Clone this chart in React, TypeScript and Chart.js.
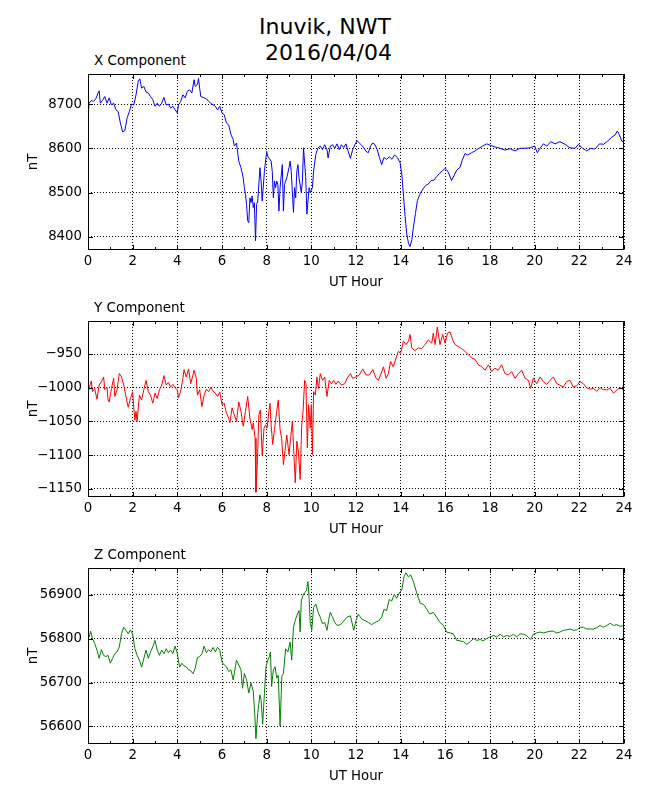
import React, { useEffect, useRef } from "react";
import { Chart, registerables } from "chart.js";

Chart.register(...registerables);

const FIG_TITLE = ["Inuvik, NWT", " 2016/04/04"];
const X_LABEL = "UT Hour";
const Y_LABEL = "nT";
const HOUR_RANGE = [0, 24];
const HOUR_STEP = 2;

const X_TITLE = "X Component";
const X_LIMITS = [8370, 8768];
const X_TICKS = [8400, 8500, 8600, 8700];
// [UT hour, nT]
const X_SERIES: number[][] = [
  [0.0, 8672], [0.05, 8702], [0.15, 8708], [0.25, 8706], [0.35, 8712], [0.45, 8725], [0.5, 8730], [0.55, 8702],
  [0.65, 8708], [0.75, 8717], [0.85, 8702], [0.95, 8714], [1.05, 8698], [1.15, 8702], [1.25, 8687], [1.35, 8683],
  [1.45, 8657], [1.55, 8637], [1.65, 8640], [1.75, 8668], [1.85, 8683], [1.95, 8700], [2.05, 8698], [2.15, 8721],
  [2.25, 8752], [2.32, 8757], [2.4, 8736], [2.5, 8740], [2.6, 8727], [2.7, 8725], [2.8, 8717], [2.9, 8710],
  [3.0, 8695], [3.1, 8702], [3.2, 8695], [3.3, 8702], [3.4, 8715], [3.5, 8698], [3.6, 8700], [3.7, 8691],
  [3.8, 8695], [3.9, 8687], [4.0, 8680], [4.05, 8698], [4.15, 8706], [4.25, 8721], [4.35, 8714], [4.45, 8729],
  [4.55, 8732], [4.65, 8725], [4.75, 8755], [4.8, 8740], [4.9, 8744], [4.95, 8758], [5.0, 8736], [5.05, 8717],
  [5.15, 8715], [5.3, 8712], [5.4, 8706], [5.5, 8702], [5.6, 8698], [5.7, 8695], [5.8, 8687], [5.9, 8695],
  [6.0, 8680], [6.1, 8676], [6.2, 8657], [6.3, 8653], [6.4, 8631], [6.5, 8620], [6.55, 8605], [6.65, 8612],
  [6.75, 8571], [6.85, 8556], [6.95, 8533], [7.0, 8511], [7.05, 8496], [7.1, 8473], [7.15, 8436], [7.2, 8432],
  [7.25, 8488], [7.3, 8477], [7.35, 8492], [7.4, 8466], [7.45, 8477], [7.5, 8391], [7.55, 8473], [7.6, 8481],
  [7.7, 8556], [7.75, 8526], [7.8, 8481], [7.9, 8548], [8.0, 8593], [8.05, 8582], [8.1, 8578], [8.2, 8571],
  [8.25, 8548], [8.3, 8488], [8.35, 8526], [8.4, 8511], [8.45, 8526], [8.5, 8518], [8.55, 8458], [8.6, 8511],
  [8.7, 8563], [8.75, 8458], [8.8, 8518], [8.9, 8533], [9.0, 8556], [9.05, 8571], [9.1, 8548], [9.2, 8455],
  [9.25, 8511], [9.3, 8488], [9.35, 8548], [9.4, 8563], [9.45, 8533], [9.55, 8500], [9.6, 8526], [9.65, 8601],
  [9.75, 8533], [9.8, 8451], [9.9, 8511], [9.95, 8500], [10.05, 8511], [10.1, 8548], [10.2, 8586], [10.3, 8601],
  [10.4, 8605], [10.5, 8597], [10.6, 8608], [10.7, 8597], [10.75, 8578], [10.85, 8605], [10.95, 8608], [11.05, 8600],
  [11.15, 8610], [11.25, 8597], [11.35, 8608], [11.45, 8602], [11.55, 8610], [11.65, 8593], [11.75, 8577], [11.85, 8597],
  [11.95, 8608], [12.05, 8617], [12.15, 8612], [12.25, 8607], [12.35, 8601], [12.45, 8593], [12.55, 8590], [12.65, 8605],
  [12.75, 8612], [12.85, 8608], [12.95, 8597], [13.05, 8579], [13.15, 8563], [13.25, 8579], [13.37, 8575], [13.5, 8581],
  [13.6, 8575], [13.73, 8585], [13.85, 8579], [13.97, 8568], [14.05, 8542], [14.12, 8497], [14.2, 8445], [14.27, 8407],
  [14.35, 8385], [14.42, 8378], [14.5, 8393], [14.57, 8422], [14.66, 8452], [14.75, 8482], [14.87, 8497], [15.0, 8508],
  [15.12, 8516], [15.24, 8519], [15.36, 8527], [15.49, 8528], [15.61, 8536], [15.73, 8542], [15.86, 8549], [16.0, 8555],
  [16.13, 8546], [16.28, 8527], [16.39, 8538], [16.51, 8551], [16.66, 8557], [16.75, 8572], [16.88, 8588], [17.0, 8585],
  [17.18, 8590], [17.33, 8594], [17.5, 8600], [17.67, 8605], [17.85, 8610], [18.0, 8607], [18.22, 8603], [18.45, 8600],
  [18.67, 8596], [18.9, 8599], [19.12, 8594], [19.34, 8600], [19.57, 8600], [19.79, 8601], [20.0, 8605], [20.12, 8590],
  [20.24, 8600], [20.39, 8610], [20.54, 8605], [20.72, 8615], [20.91, 8610], [21.13, 8615], [21.36, 8609], [21.58, 8601],
  [21.81, 8600], [21.96, 8609], [22.15, 8600], [22.33, 8594], [22.52, 8600], [22.7, 8598], [22.9, 8610], [23.08, 8609],
  [23.26, 8616], [23.45, 8625], [23.6, 8630], [23.7, 8639], [23.79, 8631], [23.9, 8616], [24.0, 8615],
];

const Y_TITLE = "Y Component";
const Y_LIMITS = [-1162, -901];
const Y_TICKS = [-1150, -1100, -1050, -1000, -950];
const Y_SERIES: number[][] = [
  [0.0, -1006], [0.05, -1001], [0.15, -990], [0.2, -1006], [0.3, -1001], [0.4, -1017], [0.5, -996], [0.6, -991],
  [0.7, -984], [0.75, -1003], [0.85, -999], [0.9, -1018], [0.95, -1021], [1.05, -1001], [1.15, -986], [1.2, -1013],
  [1.3, -1003], [1.4, -979], [1.5, -984], [1.6, -996], [1.7, -1013], [1.8, -1029], [1.9, -1016], [2.0, -1006],
  [2.05, -1030], [2.1, -1048], [2.15, -1035], [2.2, -1050], [2.3, -1011], [2.4, -1018], [2.5, -1003], [2.6, -989],
  [2.7, -1006], [2.8, -1011], [2.9, -1023], [3.0, -1008], [3.1, -1016], [3.2, -1003], [3.3, -996], [3.4, -982],
  [3.5, -996], [3.6, -992], [3.7, -999], [3.8, -995], [3.9, -1000], [4.0, -1003], [4.05, -1015], [4.15, -1005],
  [4.25, -986], [4.3, -973], [4.4, -984], [4.5, -972], [4.6, -994], [4.7, -981], [4.75, -974], [4.85, -986],
  [4.9, -1011], [5.0, -1003], [5.1, -1028], [5.2, -1011], [5.3, -1002], [5.4, -1006], [5.5, -999], [5.6, -1005],
  [5.7, -1008], [5.8, -1013], [5.9, -1006], [6.0, -1025], [6.1, -1023], [6.2, -1038], [6.3, -1045], [6.35, -1052],
  [6.45, -1030], [6.55, -1040], [6.65, -1050], [6.75, -1021], [6.85, -1035], [6.95, -1057], [7.05, -1035], [7.15, -1013],
  [7.25, -1045], [7.35, -1062], [7.4, -1052], [7.48, -1075], [7.52, -1155], [7.58, -1114], [7.65, -1040], [7.72, -1033],
  [7.8, -1100], [7.88, -1060], [7.95, -1055], [8.02, -1060], [8.1, -1035], [8.15, -1023], [8.2, -1055], [8.27, -1084],
  [8.35, -1062], [8.45, -1035], [8.52, -1018], [8.6, -1062], [8.67, -1075], [8.75, -1114], [8.82, -1094], [8.9, -1070],
  [9.0, -1099], [9.07, -1075], [9.15, -1050], [9.22, -1099], [9.28, -1141], [9.35, -1079], [9.42, -1094], [9.5, -1136],
  [9.57, -1055], [9.63, -1035], [9.7, -989], [9.76, -994], [9.82, -1089], [9.88, -1025], [9.95, -1060], [10.0, -1025],
  [10.05, -1099], [10.1, -1006], [10.18, -1011], [10.25, -984], [10.32, -1001], [10.4, -979], [10.5, -989], [10.6, -984],
  [10.7, -1013], [10.8, -989], [10.9, -994], [11.0, -989], [11.1, -995], [11.2, -990], [11.35, -996], [11.5, -994],
  [11.6, -986], [11.75, -979], [11.85, -986], [12.0, -984], [12.15, -981], [12.3, -972], [12.45, -981], [12.6, -981],
  [12.75, -973], [12.9, -986], [13.0, -989], [13.1, -981], [13.23, -969], [13.35, -986], [13.45, -979], [13.55, -961],
  [13.67, -969], [13.79, -956], [13.9, -946], [14.0, -949], [14.12, -931], [14.24, -936], [14.35, -931], [14.42, -921],
  [14.5, -941], [14.64, -945], [14.79, -941], [14.94, -942], [15.09, -936], [15.24, -929], [15.39, -934], [15.46, -919],
  [15.54, -936], [15.64, -910], [15.76, -936], [15.88, -921], [15.99, -934], [16.1, -919], [16.21, -917], [16.33, -929],
  [16.43, -936], [16.58, -939], [16.73, -942], [16.88, -946], [17.03, -951], [17.18, -956], [17.33, -958], [17.48, -966],
  [17.63, -969], [17.78, -974], [17.93, -966], [18.08, -976], [18.22, -971], [18.37, -974], [18.52, -966], [18.67, -979],
  [18.82, -981], [18.97, -976], [19.12, -986], [19.27, -979], [19.42, -974], [19.57, -986], [19.72, -989], [19.82, -1001],
  [19.94, -986], [20.09, -994], [20.24, -984], [20.39, -991], [20.54, -995], [20.69, -989], [20.84, -984], [20.99, -994],
  [21.13, -996], [21.28, -999], [21.43, -991], [21.58, -989], [21.73, -999], [21.88, -997], [22.03, -991], [22.18, -994],
  [22.33, -1000], [22.48, -1002], [22.63, -1001], [22.78, -1005], [22.93, -1000], [23.08, -1003], [23.23, -1003], [23.38, -1001],
  [23.53, -1008], [23.68, -1003], [23.83, -1000], [23.98, -1003],
];

const Z_TITLE = "Z Component";
const Z_LIMITS = [56560, 56961];
const Z_TICKS = [56600, 56700, 56800, 56900];
const Z_SERIES: number[][] = [
  [0.0, 56819], [0.05, 56804], [0.12, 56817], [0.2, 56800], [0.3, 56789], [0.4, 56774], [0.5, 56755], [0.6, 56775],
  [0.7, 56762], [0.8, 56759], [0.9, 56762], [1.0, 56744], [1.1, 56755], [1.2, 56766], [1.3, 56770], [1.4, 56781],
  [1.5, 56811], [1.6, 56826], [1.7, 56819], [1.8, 56811], [1.9, 56820], [2.0, 56810], [2.1, 56777], [2.2, 56762],
  [2.3, 56751], [2.4, 56735], [2.5, 56755], [2.6, 56774], [2.7, 56755], [2.8, 56770], [2.9, 56781], [3.0, 56796],
  [3.1, 56774], [3.2, 56762], [3.3, 56774], [3.4, 56766], [3.5, 56777], [3.6, 56768], [3.7, 56774], [3.8, 56766],
  [3.9, 56783], [4.0, 56766], [4.1, 56735], [4.2, 56744], [4.3, 56738], [4.4, 56736], [4.5, 56729], [4.6, 56727],
  [4.7, 56720], [4.8, 56732], [4.9, 56757], [5.0, 56759], [5.1, 56765], [5.2, 56783], [5.3, 56768], [5.4, 56775],
  [5.5, 56770], [5.6, 56780], [5.7, 56770], [5.8, 56780], [5.9, 56774], [6.0, 56747], [6.1, 56740], [6.2, 56736],
  [6.3, 56725], [6.4, 56729], [6.5, 56706], [6.6, 56736], [6.65, 56751], [6.75, 56740], [6.85, 56729], [6.92, 56687],
  [7.0, 56721], [7.1, 56706], [7.2, 56676], [7.3, 56699], [7.4, 56680], [7.47, 56624], [7.52, 56572], [7.6, 56631],
  [7.7, 56672], [7.75, 56661], [7.82, 56605], [7.9, 56676], [7.97, 56736], [8.05, 56751], [8.12, 56759], [8.17, 56770],
  [8.22, 56691], [8.3, 56729], [8.38, 56736], [8.45, 56710], [8.52, 56717], [8.6, 56601], [8.68, 56714], [8.75, 56721],
  [8.85, 56777], [8.95, 56770], [9.05, 56792], [9.12, 56751], [9.2, 56826], [9.3, 56845], [9.38, 56856], [9.45, 56864],
  [9.5, 56815], [9.55, 56886], [9.62, 56898], [9.7, 56905], [9.78, 56909], [9.85, 56930], [9.9, 56894], [9.95, 56837],
  [10.02, 56819], [10.1, 56871], [10.2, 56879], [10.3, 56860], [10.4, 56849], [10.5, 56834], [10.6, 56837], [10.7, 56819],
  [10.8, 56849], [10.85, 56860], [10.95, 56849], [11.05, 56837], [11.15, 56830], [11.3, 56832], [11.45, 56840], [11.6, 56849],
  [11.75, 56852], [11.9, 56819], [12.0, 56841], [12.1, 56856], [12.25, 56845], [12.4, 56841], [12.55, 56837], [12.7, 56832],
  [12.85, 56837], [13.0, 56840], [13.15, 56849], [13.26, 56867], [13.37, 56864], [13.49, 56889], [13.6, 56886], [13.72, 56901],
  [13.82, 56892], [13.94, 56904], [14.05, 56911], [14.15, 56941], [14.24, 56950], [14.34, 56941], [14.45, 56945], [14.57, 56930],
  [14.72, 56904], [14.87, 56881], [15.02, 56878], [15.17, 56867], [15.31, 56856], [15.46, 56860], [15.61, 56849], [15.76, 56837],
  [15.91, 56830], [16.06, 56815], [16.21, 56813], [16.36, 56811], [16.51, 56796], [16.66, 56795], [16.81, 56793], [16.96, 56787],
  [17.11, 56793], [17.26, 56800], [17.41, 56796], [17.56, 56798], [17.7, 56795], [17.85, 56800], [18.0, 56804], [18.15, 56807],
  [18.3, 56804], [18.45, 56810], [18.6, 56804], [18.75, 56807], [18.9, 56805], [19.05, 56810], [19.2, 56804], [19.34, 56811],
  [19.49, 56810], [19.64, 56807], [19.82, 56798], [19.94, 56810], [20.09, 56813], [20.24, 56815], [20.39, 56813], [20.54, 56815],
  [20.69, 56817], [20.84, 56817], [20.99, 56813], [21.13, 56815], [21.28, 56819], [21.43, 56820], [21.58, 56822], [21.73, 56819],
  [21.88, 56820], [22.03, 56826], [22.18, 56826], [22.33, 56822], [22.48, 56822], [22.63, 56822], [22.78, 56825], [22.93, 56830],
  [23.08, 56826], [23.23, 56830], [23.38, 56835], [23.53, 56830], [23.68, 56832], [23.83, 56828], [24.0, 56830],
];

const FONT = "'DejaVu Sans', sans-serif";

const fmt = (v: number) => (v < 0 ? "\u2212" + String(Math.abs(v)) : String(v));

const frameTicks = {
  id: "frameTicks",
  afterDraw(chart: any) {
    const { ctx, chartArea: a, scales } = chart;
    const xs = scales.x;
    const ys = scales.y;
    const L = Math.round(a.left) + 0.5;
    const R = Math.round(a.right) - 0.5;
    const T = Math.round(a.top) + 0.5;
    const B = Math.round(a.bottom) - 0.5;
    ctx.save();
    ctx.setLineDash([]);
    ctx.strokeStyle = "#000";
    ctx.lineWidth = 1;
    ctx.beginPath();
    const major = 4.5;
    const minor = 2.5;
    const xt = xs.ticks.map((t: any) => t.value);
    xt.forEach((v: number, i: number) => {
      const px = Math.round(xs.getPixelForValue(v)) + 0.5;
      ctx.moveTo(px, B); ctx.lineTo(px, B - major);
      ctx.moveTo(px, T); ctx.lineTo(px, T + major);
      if (i < xt.length - 1) {
        const mx = Math.round(xs.getPixelForValue((v + xt[i + 1]) / 2)) + 0.5;
        ctx.moveTo(mx, B); ctx.lineTo(mx, B - minor);
        ctx.moveTo(mx, T); ctx.lineTo(mx, T + minor);
      }
    });
    ys.ticks.forEach((t: any) => {
      const py = Math.round(ys.getPixelForValue(t.value)) + 0.5;
      ctx.moveTo(L, py); ctx.lineTo(L + major, py);
      ctx.moveTo(R, py); ctx.lineTo(R - major, py);
    });
    ctx.stroke();
    ctx.strokeRect(L, T, R - L, B - T);
    ctx.restore();
  },
};

type PanelProps = {
  title: string;
  series: number[][];
  color: string;
  limits: number[];
  yTicks: number[];
  top: number;
};

const CANVAS_W = 650;
const CANVAS_H = 240;
const PAD_TOP = 12;

function Panel({ title, series, color, limits, yTicks, top }: PanelProps) {
  const ref = useRef<HTMLCanvasElement | null>(null);
  useEffect(() => {
    if (!ref.current) return;
    const chart = new Chart(ref.current, {
      type: "line",
      data: {
        datasets: [
          {
            data: series.map(([h, v]) => ({ x: h, y: v })),
            borderColor: color,
            borderWidth: 1,
            pointRadius: 0,
            tension: 0,
            fill: false,
          },
        ],
      },
      options: {
        animation: false,
        responsive: false,
        devicePixelRatio: 1,
        parsing: false as any,
        normalized: true,
        layout: { padding: { top: PAD_TOP, left: 0, right: 26, bottom: 5 } },
        plugins: {
          legend: { display: false },
          tooltip: { enabled: false },
          title: { display: false },
        },
        scales: {
          x: {
            type: "linear",
            min: HOUR_RANGE[0],
            max: HOUR_RANGE[1],
            afterFit: (s: any) => { s.height = 45; },
            ticks: {
              stepSize: HOUR_STEP,
              autoSkip: false,
              maxRotation: 0,
              padding: 4,
              color: "#000",
              font: { family: FONT, size: 13.3 },
              callback: (v: any) => fmt(Number(v)),
            },
            grid: { color: "#000", lineWidth: 1, drawTicks: false },
            border: { display: false, dash: [1, 2] },
            title: {
              display: true,
              text: X_LABEL,
              color: "#000",
              font: { family: FONT, size: 13.3 },
              padding: { top: 0, bottom: 4 },
            },
          },
          y: {
            type: "linear",
            min: limits[0],
            max: limits[1],
            afterFit: (s: any) => { s.width = 88; },
            afterBuildTicks: (s: any) => {
              s.ticks = yTicks.map((v) => ({ value: v }));
            },
            ticks: {
              autoSkip: false,
              padding: 6,
              color: "#000",
              font: { family: FONT, size: 13.3 },
              callback: (v: any) => fmt(Number(v)),
            },
            grid: { color: "#000", lineWidth: 1, drawTicks: false },
            border: { display: false, dash: [1, 2] },
            title: {
              display: true,
              text: Y_LABEL,
              color: "#000",
              font: { family: FONT, size: 13.3 },
              padding: { top: 26, bottom: 0 },
            },
          },
        },
      },
      plugins: [frameTicks],
    } as any);
    return () => chart.destroy();
  }, [series, color, limits, yTicks]);

  return (
    <>
      <div
        style={{
          position: "absolute",
          left: 94,
          top: top - 17.7,
          font: `13.5px ${FONT}`,
          lineHeight: 1,
          whiteSpace: "nowrap",
          color: "#000",
        }}
      >
        {title}
      </div>
      <canvas
        ref={ref}
        width={CANVAS_W}
        height={CANVAS_H}
        style={{ position: "absolute", left: 0, top: top - PAD_TOP, width: CANVAS_W, height: CANVAS_H }}
      />
    </>
  );
}

export default function App() {
  return (
    <div style={{ position: "absolute", left: 0, top: 0, width: 650, height: 800, background: "#fff", overflow: "hidden" }}>
      <div
        style={{
          position: "absolute",
          left: 0,
          top: 14,
          width: 650,
          textAlign: "center",
          font: `22px ${FONT}`,
          lineHeight: "26px",
          color: "#000",
          whiteSpace: "pre",
        }}
      >
        {FIG_TITLE.map((t) => (
          <div key={t}>{t}</div>
        ))}
      </div>
      <Panel title={X_TITLE} series={X_SERIES} color="#0000ff" limits={X_LIMITS} yTicks={X_TICKS} top={72} />
      <Panel title={Y_TITLE} series={Y_SERIES} color="#ff0000" limits={Y_LIMITS} yTicks={Y_TICKS} top={319} />
      <Panel title={Z_TITLE} series={Z_SERIES} color="#008000" limits={Z_LIMITS} yTicks={Z_TICKS} top={566} />
    </div>
  );
}
